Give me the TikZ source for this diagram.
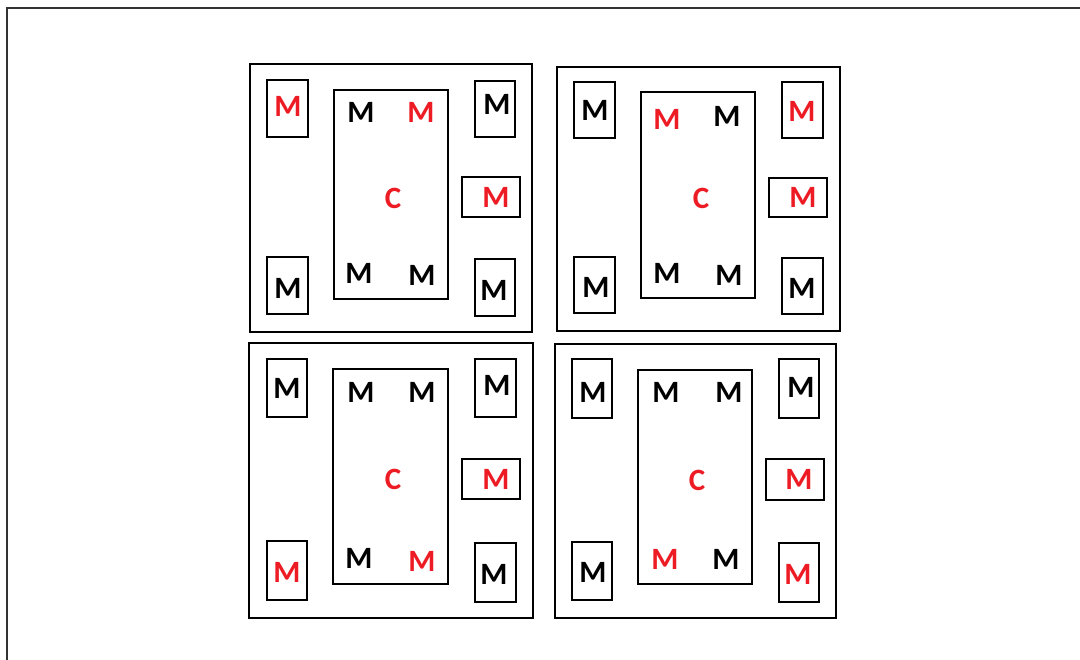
\documentclass[tikz,border=0pt]{standalone}
\usepackage{fontspec}
\setmainfont{Carlito}
\definecolor{mred}{RGB}{237,28,36}
\tikzset{
  box/.style={draw=black,line width=2.2pt},
  frame/.style={draw=black!80,line width=1.5pt},
  lbl/.style={font=\bfseries\fontsize{31}{31}\selectfont,inner sep=0pt,text=black},
  rlbl/.style={lbl,text=mred}
}
\newcommand{\Rct}[4]{\draw[box] (#1,#2) rectangle (#3,#4);}
\begin{document}
\begin{tikzpicture}[x=1pt,y=-1pt]
\useasboundingbox (0,0) rectangle (1080,660);
\fill[white] (0,0) rectangle (1080,660);
\coordinate (fa) at (7,8);
\coordinate (fb) at (1080,8);
\coordinate (fc) at (7,660);
\draw[frame] (fb) -- (fa) -- (fc);
% Panel 1
\Rct{250}{64}{532}{332}
\Rct{334}{90}{448}{299}
\Rct{267}{80}{308}{137}
\Rct{475}{81}{515}{137}
\Rct{462}{177}{520}{217}
\Rct{267}{257}{308}{314}
\Rct{475}{259}{515}{316}
\node[rlbl] (p1a) at (288,106) {M};
\node[lbl] (p1b) at (497,104) {M};
\node[rlbl] (p1c) at (496,197) {M};
\node[lbl] (p1d) at (288,288) {M};
\node[lbl] (p1e) at (494,290) {M};
\node[lbl] (p1f) at (361,112) {M};
\node[rlbl] (p1g) at (421,112) {M};
\node[rlbl] (p1h) at (393,198) {C};
\node[lbl] (p1i) at (359,273) {M};
\node[lbl] (p1j) at (422,275) {M};
% Panel 2
\Rct{557}{67}{840}{331}
\Rct{641}{92}{755}{298}
\Rct{574}{82}{615}{138}
\Rct{782}{82}{823}{138}
\Rct{769}{178}{827}{217}
\Rct{574}{257}{615}{313}
\Rct{782}{258}{823}{314}
\node[lbl] (p2a) at (595,110) {M};
\node[rlbl] (p2b) at (802,111) {M};
\node[rlbl] (p2c) at (803,197) {M};
\node[lbl] (p2d) at (596,287) {M};
\node[lbl] (p2e) at (802,288) {M};
\node[rlbl] (p2f) at (667,119) {M};
\node[lbl] (p2g) at (727,116) {M};
\node[rlbl] (p2h) at (701,198) {C};
\node[lbl] (p2i) at (667,273) {M};
\node[lbl] (p2j) at (729,275) {M};
% Panel 3
\Rct{249}{343}{533}{618}
\Rct{333}{369}{448}{584}
\Rct{267}{359}{307}{417}
\Rct{475}{359}{516}{417}
\Rct{462}{459}{520}{499}
\Rct{267}{541}{307}{600}
\Rct{475}{543}{516}{602}
\node[lbl] (p3a) at (287,388) {M};
\node[lbl] (p3b) at (497,385) {M};
\node[rlbl] (p3c) at (496,479) {M};
\node[rlbl] (p3d) at (287,572) {M};
\node[lbl] (p3e) at (494,574) {M};
\node[lbl] (p3f) at (361,392) {M};
\node[lbl] (p3g) at (422,392) {M};
\node[rlbl] (p3h) at (393,479) {C};
\node[lbl] (p3i) at (359,558) {M};
\node[rlbl] (p3j) at (422,561) {M};
% Panel 4
\Rct{555}{344}{836}{618}
\Rct{638}{370}{752}{584}
\Rct{572}{359}{612}{418}
\Rct{779}{359}{819}{418}
\Rct{766}{459}{824}{500}
\Rct{572}{542}{612}{600}
\Rct{779}{543}{819}{602}
\node[lbl] (p4a) at (593,392) {M};
\node[lbl] (p4b) at (801,387) {M};
\node[rlbl] (p4c) at (799,479) {M};
\node[lbl] (p4d) at (593,572) {M};
\node[rlbl] (p4e) at (798,574) {M};
\node[lbl] (p4f) at (666,392) {M};
\node[lbl] (p4g) at (729,392) {M};
\node[rlbl] (p4h) at (697,480) {C};
\node[rlbl] (p4i) at (665,559) {M};
\node[lbl] (p4j) at (726,559) {M};
\end{tikzpicture}
\end{document}
